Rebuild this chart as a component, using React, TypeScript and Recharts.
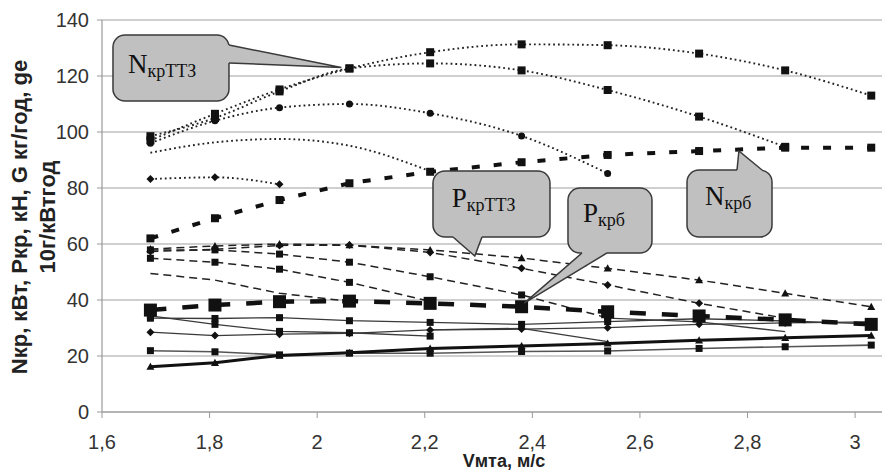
import React from 'react';
import { LineChart, Line, XAxis, YAxis, CartesianGrid, ReferenceDot } from 'recharts';

// Speed of MTA, m/s
const vmta = [1.69, 1.81, 1.93, 2.06, 2.21, 2.38, 2.54, 2.71, 2.87, 3.03];

// N_кр (ТТЗ) — dotted curves
const nkrTTZ1 = [97, 106.5, 115.2, 122.7, 128.5, 131.3, 131, 128, 122, 113];
const nkrTTZ2 = [98.5, 105, 114.5, 122.7, 124.5, 122, 115, 105.5, 94.7, null];
const nkrTTZ3 = [96, 104, 108.7, 110, 106.7, 98.6, 85.2, null, null, null];
const nkrTTZ4 = [92.6, 96.3, 97.5, 95.1, 86, null, null, null, null, null];
const nkrTTZ5 = [83.2, 83.8, 81.3, null, null, null, null, null, null, null];
// N_крб — thick dashed
const nkrB = [62, 69.2, 75.7, 81.7, 85.8, 89.2, 91.8, 93.2, 94.4, 94.4];
// P_кр (ТТЗ) — thin dashed
const pkrTTZ1 = [58.2, 59.3, 60, 59.6, 57.9, 55, 51.3, 47.1, 42.4, 37.6];
const pkrTTZ2 = [57.3, 58.1, 59.5, 59.6, 57, 51.3, 45.4, 38.8, 33.5, null];
const pkrTTZ3 = [57.9, 57.9, 56.4, 53.5, 48.3, 41.8, 33.6, null, null, null];
const pkrTTZ4 = [54.9, 53.5, 51, 46.3, 39.5, null, null, null, null, null];
const pkrTTZ5 = [49.5, 47.1, 42.4, 39.5, null, null, null, null, null, null];
// P_крб — thick long dash
const pkrB = [36.4, 38.2, 39.4, 39.6, 38.8, 37.6, 35.8, 34.3, 32.9, 31.3];
// G — thin solid
const g1 = [33.5, 33.4, 33.7, 32.6, 32.0, 31.3, 32.3, 33.3, 32.5, 31.5];
const g2 = [34.3, 31.3, 28.8, 28.3, 27.1, null, null, null, null, null];
const g3 = [28.5, 27.3, 27.8, 28.1, 29.3, 29.6, 30.1, 31.3, 31.8, 32.2];
const g4 = [null, null, null, null, 29.3, 29.9, 25.1, null, null, null];
const g5 = [null, null, null, null, null, null, 33.5, 32.2, 28.7, null];
// ge
const ge1 = [16.2, 17.6, 20.2, 21.2, 22.7, 23.6, 24.5, 25.6, 26.5, 27.3];
const ge2 = [21.9, 21.5, 20.4, 21.0, 21.0, 21.6, 21.8, 22.7, 23.3, 23.9];

const xTicks = [1.6, 1.8, 2, 2.2, 2.4, 2.6, 2.8, 3];
const yTicks = [0, 20, 40, 60, 80, 100, 120, 140];

type Shape = 'square' | 'circle' | 'diamond' | 'triangle' | 'none';
interface S { key: string; data: (number | null)[]; stroke: string; width: number; dash?: string; shape: Shape; size: number; type?: 'linear' | 'monotone'; }

const series: S[] = [
  { key: 'g1', data: g1, stroke: '#3a3a3a', width: 1.3, shape: 'square', size: 7 },
  { key: 'g2', data: g2, stroke: '#3a3a3a', width: 1.3, shape: 'square', size: 7 },
  { key: 'g3', data: g3, stroke: '#3a3a3a', width: 1.3, shape: 'diamond', size: 8 },
  { key: 'g4', data: g4, stroke: '#3a3a3a', width: 1.3, shape: 'none', size: 0 },
  { key: 'g5', data: g5, stroke: '#3a3a3a', width: 1.3, shape: 'none', size: 0 },
  { key: 'ge2', data: ge2, stroke: '#555', width: 1.6, shape: 'square', size: 7 },
  { key: 'ge1', data: ge1, stroke: '#111', width: 3, shape: 'triangle', size: 8 },
  { key: 'pkrTTZ5', data: pkrTTZ5, stroke: '#222', width: 1.5, dash: '8 5', shape: 'none', size: 0 },
  { key: 'pkrTTZ4', data: pkrTTZ4, stroke: '#222', width: 1.5, dash: '8 5', shape: 'square', size: 7 },
  { key: 'pkrTTZ3', data: pkrTTZ3, stroke: '#222', width: 1.5, dash: '8 5', shape: 'square', size: 7 },
  { key: 'pkrTTZ2', data: pkrTTZ2, stroke: '#222', width: 1.5, dash: '8 5', shape: 'diamond', size: 8 },
  { key: 'pkrTTZ1', data: pkrTTZ1, stroke: '#222', width: 1.5, dash: '8 5', shape: 'triangle', size: 8 },
  { key: 'pkrB', data: pkrB, stroke: '#111', width: 4.5, dash: '16 16', shape: 'square', size: 13 },
  { key: 'nkrTTZ5', data: nkrTTZ5, stroke: '#222', width: 1.9, dash: '1.8 3', shape: 'diamond', size: 8, type: 'monotone' },
  { key: 'nkrTTZ4', data: nkrTTZ4, stroke: '#222', width: 1.9, dash: '1.8 3', shape: 'none', size: 0, type: 'monotone' },
  { key: 'nkrTTZ3', data: nkrTTZ3, stroke: '#222', width: 1.9, dash: '1.8 3', shape: 'circle', size: 7, type: 'monotone' },
  { key: 'nkrTTZ2', data: nkrTTZ2, stroke: '#222', width: 1.9, dash: '1.8 3', shape: 'square', size: 8, type: 'monotone' },
  { key: 'nkrTTZ1', data: nkrTTZ1, stroke: '#222', width: 1.9, dash: '1.8 3', shape: 'square', size: 8, type: 'monotone' },
  { key: 'nkrB', data: nkrB, stroke: '#111', width: 4, dash: '8 14', shape: 'square', size: 8 },
];

const rows = vmta.map((x, i) => {
  const r: Record<string, number | null> = { x };
  series.forEach((s) => { r[s.key] = s.data[i]; });
  return r;
});

const makeDot = (sk: string, shape: Shape, size: number) => (props: any) => {
  const { cx, cy, index, value } = props;
  const k = `${sk}-${index}`;
  if (shape === 'none' || cx == null || cy == null || value == null || isNaN(cy)) return <g key={k} />;
  const h = size / 2;
  const fill = '#111';
  if (shape === 'square') return <rect key={k} x={cx - h} y={cy - h} width={size} height={size} fill={fill} />;
  if (shape === 'circle') return <circle key={k} cx={cx} cy={cy} r={h} fill={fill} />;
  if (shape === 'diamond') return <polygon key={k} points={`${cx},${cy - h} ${cx + h},${cy} ${cx},${cy + h} ${cx - h},${cy}`} fill={fill} />;
  return <polygon key={k} points={`${cx},${cy - h} ${cx + h},${cy + h * 0.8} ${cx - h},${cy + h * 0.8}`} fill={fill} />;
};

interface CalloutDef {
  key: string; tx: number; ty: number; main: string; sub: string;
  box: [number, number, number, number]; base: [[number, number], [number, number]]; inward: [number, number];
  text: [number, number];
}

const callouts: CalloutDef[] = [
  { key: 'c1', tx: 2.045, ty: 123, main: 'N', sub: 'крТТЗ', box: [-228.4, -32.6, 116, 66], base: [[-112.4, -22.6], [-112.4, -4.6]], inward: [-3, 0], text: [-213.4, 5.4] },
  { key: 'c2', tx: 2.293, ty: 55.7, main: 'P', sub: 'крТТЗ', box: [-41.8, -85, 117, 66], base: [[-21.8, -19], [7.2, -19]], inward: [0, -3], text: [-23.1, -49] },
  { key: 'c3', tx: 2.385, ty: 38.9, main: 'P', sub: 'крб', box: [43.7, -115.1, 84, 65], base: [[57.7, -50.1], [82.7, -50.1]], inward: [0, -3], text: [58.7, -81.1] },
  { key: 'c4', tx: 2.784, ty: 93.2, main: 'N', sub: 'крб', box: [-51.9, 19, 85, 67], base: [[-1.9, 19], [23.1, 19]], inward: [0, 3], text: [-33.9, 54] },
];

const makeCallout = (c: CalloutDef) => (props: any) => {
  const { cx, cy } = props;
  const [bx, by, bw, bh] = c.box;
  const [[b1x, b1y], [b2x, b2y]] = c.base;
  const [ix, iy] = c.inward;
  const p = (x: number, y: number) => `${cx + x},${cy + y}`;
  return (
    <g key={c.key}>
      <rect x={cx + bx} y={cy + by} width={bw} height={bh} rx={12} ry={12} fill="#c0c0c0" stroke="#3a3a3a" strokeWidth={1.5} />
      <polygon points={`${p(b1x + ix, b1y + iy)} ${p(b1x, b1y)} ${p(0, 0)} ${p(b2x, b2y)} ${p(b2x + ix, b2y + iy)}`} fill="#c0c0c0" stroke="none" />
      <polyline points={`${p(b1x, b1y)} ${p(0, 0)} ${p(b2x, b2y)}`} fill="none" stroke="#3a3a3a" strokeWidth={1.5} />
      <text x={cx + c.text[0]} y={cy + c.text[1]} fontFamily="'Liberation Serif', serif" fill="#111">
        <tspan fontSize={27}>{c.main}</tspan>
        <tspan fontSize={18} dy={4}>{c.sub}</tspan>
      </text>
    </g>
  );
};

const fmt = (v: number) => String(v).replace('.', ',');

export default function App() {
  return (
    <div style={{ position: 'absolute', left: 0, top: 0, width: 884, height: 472, background: '#fff' }}>
      <LineChart width={884} height={472} data={rows} margin={{ top: 20, right: 2, bottom: 0, left: 0 }}>
        <CartesianGrid horizontal vertical={false} stroke="#a0a0a0" strokeWidth={1.2} />
        <XAxis dataKey="x" type="number" domain={[1.6, 3.05]} ticks={xTicks} tickFormatter={fmt} height={60}
          tickSize={6} tickMargin={17} allowDataOverflow
          axisLine={{ stroke: '#999', strokeWidth: 1.2 }} tickLine={{ stroke: '#999' }}
          tick={{ fill: '#333', fontSize: 20, fontFamily: "'Liberation Sans', Arial, sans-serif" }} />
        <YAxis type="number" domain={[0, 140]} ticks={yTicks} width={102} tickSize={5} tickMargin={8}
          axisLine={{ stroke: '#999', strokeWidth: 1.2 }} tickLine={{ stroke: '#999' }}
          tick={{ fill: '#333', fontSize: 20, fontFamily: "'Liberation Sans', Arial, sans-serif" }} />
        {series.map((s) => (
          <Line key={s.key} dataKey={s.key} type={s.type || 'linear'} stroke={s.stroke} strokeWidth={s.width}
            strokeDasharray={s.dash} dot={makeDot(s.key, s.shape, s.size)} activeDot={false}
            isAnimationActive={false} connectNulls={false} />
        ))}
        {callouts.map((c) => (
          <ReferenceDot key={c.key} x={c.tx} y={c.ty} r={0} ifOverflow="visible" shape={makeCallout(c)} />
        ))}
      </LineChart>
      <svg width={884} height={472} style={{ position: 'absolute', left: 0, top: 0, pointerEvents: 'none' }}>
        <g fontFamily="'Liberation Sans', Arial, sans-serif" fontWeight="bold" fontSize={22} fill="#222">
          <text transform="translate(27,217) rotate(-90)" textAnchor="middle">Nкр, кВт, Pкр, кН, G кг/год, ge</text>
          <text transform="translate(55,217) rotate(-90)" textAnchor="middle">10г/кВтгод</text>
        </g>
        <text x={504} y={467} textAnchor="middle" fontFamily="'Liberation Sans', Arial, sans-serif" fontWeight="bold" fontSize={18} fill="#222">Vмта, м/с</text>
      </svg>
    </div>
  );
}
